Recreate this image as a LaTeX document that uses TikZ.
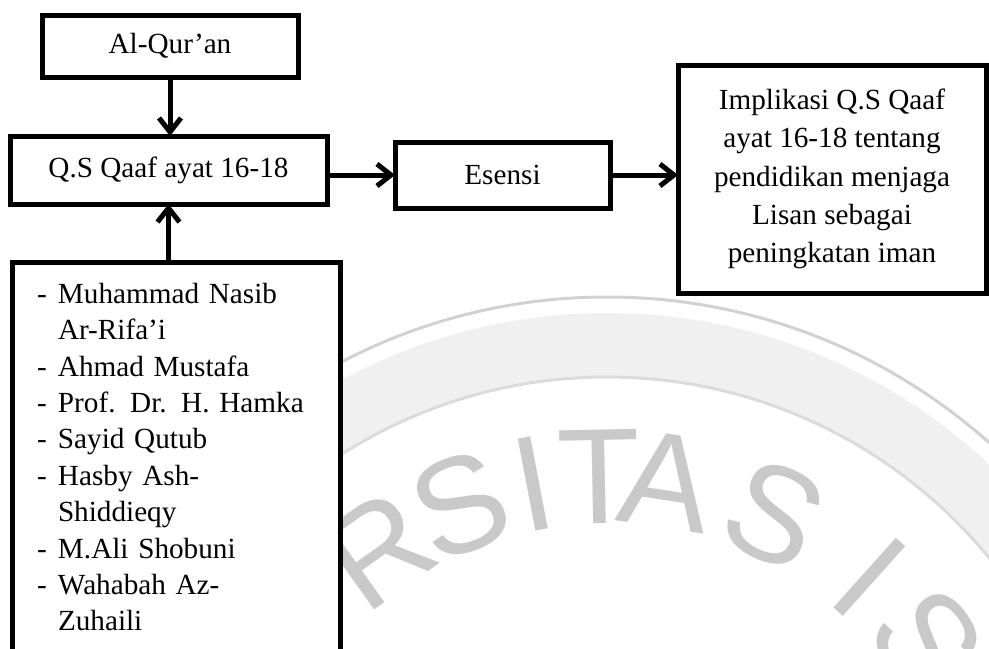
\documentclass[tikz,border=0pt]{standalone}
\usepackage{fontspec}
\setmainfont{Liberation Serif}
\newfontfamily\wmfont{Liberation Sans}
\usepackage{tikz}
\usetikzlibrary{arrows.meta,positioning}

\newcommand{\dashitem}[1]{\makebox[10.5pt][l]{-}#1}
\newcommand{\dashcont}[1]{\hspace*{10.5pt}#1}

\begin{document}
\begin{tikzpicture}
      [x=0.5pt, y=-0.5pt,
      node style1/.style={draw, line width=2.5pt, rectangle, fill=white, align=center, inner sep=0pt, outer sep=0pt, font=\fontsize{14.6}{19.2}\selectfont},
      node style2/.style={draw, line width=2.5pt, rectangle, fill=white, align=left, anchor=north west, text width=139pt, inner xsep=12.5pt, inner ysep=10.5pt, outer sep=0pt, font=\fontsize{14.6}{18.2}\selectfont},
      edge style/.style={draw, line width=2.5pt, -{Straight Barb[length=7pt, width=11pt]}},
      wm letter/.style={text=black!21, inner sep=0pt, font=\wmfont\fontsize{68}{68}\selectfont},
      ]
      \path[use as bounding box, clip] (0,0) rectangle (989,648);

      % watermark
      \coordinate (wm) at (607,871);
      \fill[black!6, even odd rule] (wm) circle[radius=279pt] (wm) circle[radius=247pt];
      \draw[black!18, line width=1.5pt] (wm) circle[radius=287pt];
      \draw[black!14, line width=1.5pt] (wm) circle[radius=247pt];
      \foreach \ch/\ang in {R/125.5, S/111.8, I/100.8, T/91.2, A/81.3, S/64.9, I/48.1, S/35.7}
        \node[wm letter, rotate=\ang-90] at ([shift={(\ang:197pt)}]wm) {\ch};

      \node[node style1, minimum width=128pt, minimum height=31pt] (alquran) at (170,46) {Al-Qur’an};
      \node[node style1, minimum width=158.5pt, minimum height=34pt] (qs) at (168.5,170) {Q.S Qaaf ayat 16-18};
      \node[node style1, minimum width=107.5pt, minimum height=33pt] (esensi) at (502.5,175) {Esensi};
      \node[node style1, minimum width=154pt, minimum height=114pt] (impl) at (832,179)
        {Implikasi Q.S Qaaf\\ ayat 16-18 tentang\\ pendidikan menjaga\\ Lisan sebagai\\ peningkatan iman};
      \node[node style2] (tafsir) at (12,262)
        {\dashitem{Muhammad Nasib}\\ \dashcont{Ar-Rifa’i}\\ \dashitem{Ahmad Mustafa}\\ \dashitem{Prof. Dr. H. Hamka}\\
         \dashitem{Sayid Qutub}\\ \dashitem{Hasby Ash-}\\ \dashcont{Shiddieqy}\\ \dashitem{M.Ali Shobuni}\\
         \dashitem{Wahabah Az-}\\ \dashcont{Zuhaili}\rule[-12pt]{0pt}{0pt}};

      \draw[edge style] (alquran.south) -- (alquran.south |- qs.north);
      \draw[edge style] (qs.south |- tafsir.north) -- (qs.south);
      \draw[edge style] (qs.east |- esensi.west) -- (esensi.west);
      \draw[edge style] (esensi.east) -- (esensi.east -| impl.west);
    \end{tikzpicture}
\end{document}
